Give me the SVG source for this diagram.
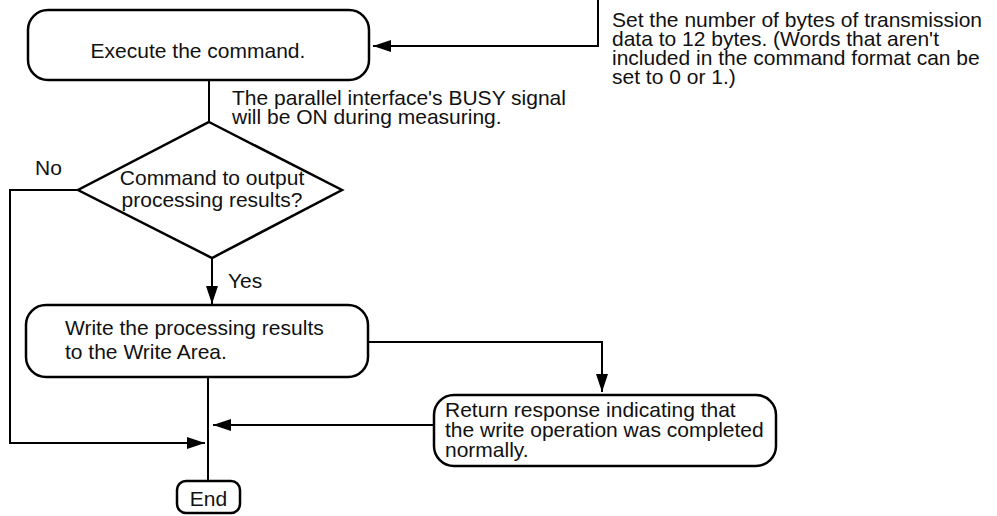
<svg xmlns="http://www.w3.org/2000/svg" width="997" height="516" viewBox="0 0 997 516">
<style>
text{font-family:"Liberation Sans",Arial,sans-serif;font-size:21px;fill:#111}
.box{fill:#fff;stroke:#000;stroke-width:2.5}
.ln{fill:none;stroke:#000;stroke-width:2}
</style>
<defs>
<marker id="ah" viewBox="0 0 18 12" refX="18" refY="6" markerWidth="18" markerHeight="12" markerUnits="userSpaceOnUse" orient="auto">
<path d="M0,0 L18,6 L0,12 Z" fill="#000"/>
</marker>
</defs>
<g id="connectors">
<path class="ln" d="M598,0 V46 H373" marker-end="url(#ah)"/>
<path class="ln" d="M209,80 V122"/>
<path class="ln" d="M212,258 V304" marker-end="url(#ah)"/>
<path class="ln" d="M78,190 H10 V443 H205" marker-end="url(#ah)"/>
<path class="ln" d="M369,342 H602 V392" marker-end="url(#ah)"/>
<path class="ln" d="M434,425 H213" marker-end="url(#ah)"/>
<path class="ln" d="M208,377 V481"/>
</g>
<g id="execute">
<rect class="box" x="28" y="10" width="341" height="70" rx="20"/>
<text x="198" y="58" text-anchor="middle">Execute the command.</text>
</g>
<g id="note-bytes">
<text x="612" y="27">Set the number of bytes of transmission</text>
<text x="612" y="46">data to 12 bytes. (Words that aren't</text>
<text x="612" y="65">included in the command format can be</text>
<text x="612" y="84">set to 0 or 1.)</text>
</g>
<g id="note-busy">
<text x="232" y="105">The parallel interface's BUSY signal</text>
<text x="232" y="124">will be ON during measuring.</text>
</g>
<g id="decision">
<polygon class="box" points="209,122 342,190 212,258 78,190"/>
<text x="212" y="185" text-anchor="middle">Command to output</text>
<text x="212" y="207" text-anchor="middle">processing results?</text>
</g>
<g id="label-no"><text x="35" y="175">No</text></g>
<g id="label-yes"><text x="228" y="288">Yes</text></g>
<g id="write">
<rect class="box" x="26" y="305" width="342" height="72" rx="20"/>
<text x="65" y="335">Write the processing results</text>
<text x="65" y="359">to the Write Area.</text>
</g>
<g id="return">
<rect class="box" x="434" y="395" width="342" height="71" rx="20"/>
<text x="445" y="417">Return response indicating that</text>
<text x="445" y="437">the write operation was completed</text>
<text x="445" y="457">normally.</text>
</g>
<g id="end">
<rect class="box" x="177" y="481" width="63" height="32" rx="9"/>
<text x="208.5" y="506" text-anchor="middle">End</text>
</g>
</svg>
